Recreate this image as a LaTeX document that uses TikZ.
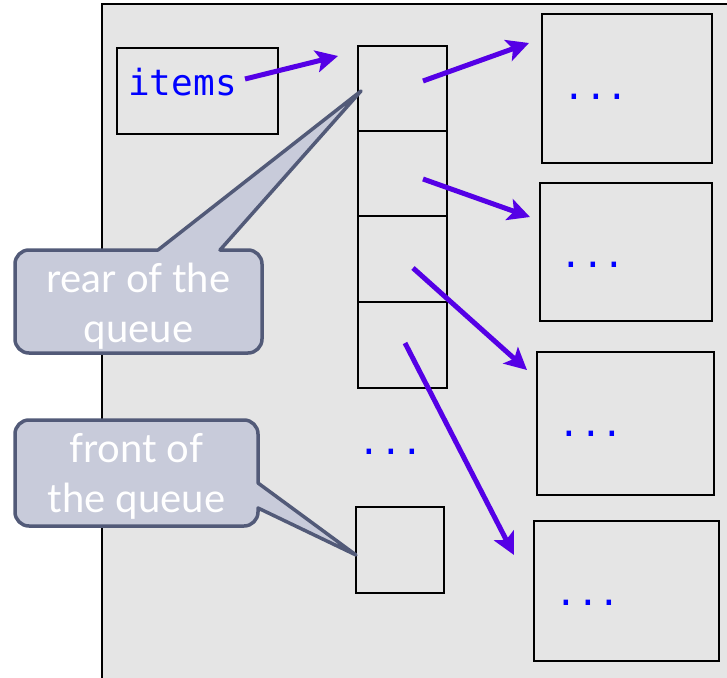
\documentclass[tikz,border=0pt]{standalone}
\usepackage{fontspec}
\setmainfont{Lato}
\newfontfamily\monof{DejaVu Sans Mono}
\usetikzlibrary{arrows.meta}
\definecolor{bggray}{HTML}{E5E5E5}
\definecolor{arrowcol}{HTML}{5500E6}
\definecolor{txtblue}{HTML}{0000FF}
\definecolor{calloutfill}{HTML}{C8CBDA}
\definecolor{calloutline}{HTML}{525A78}
\tikzset{
  boxnode/.style={draw=black, line width=2.6pt, fill=bggray, inner sep=0pt, rectangle},
  ptrarrow/.style={draw=arrowcol, line width=5pt, -{Stealth[length=22pt,width=22pt,inset=5pt]}},
  calloutshape/.style={draw=calloutline, fill=calloutfill, line width=3.5pt, line join=round},
  callouttext/.style={text=white, align=center, inner sep=0pt, font=\fontsize{40}{50}\selectfont},
  dotstext/.style={text=txtblue, inner sep=0pt, anchor=base, font=\monof\fontsize{36}{40}\selectfont},
}
\begin{document}
\begin{tikzpicture}[x=1pt, y=-1pt]
\useasboundingbox (0,0) rectangle (727,677);
\clip (0,0) rectangle (727,677);
% outer frame
\fill[bggray] (102,4) rectangle (740,690);
\draw[line width=2.6pt] (102,690) -- (102,4) -- (740,4);
% items box
\node[boxnode, minimum width=161pt, minimum height=86pt] (itemsbox) at (197.5,91) {};
\node[text=txtblue, inner sep=0pt, anchor=base, font=\monof\fontsize{36}{40}\selectfont] (itemstxt) at (182.5,95) {items};
% queue cells
\node[boxnode, minimum width=89pt, minimum height=85pt] (c1) at (402.5,88.5) {};
\node[boxnode, minimum width=89pt, minimum height=85pt] (c2) at (402.5,173.5) {};
\node[boxnode, minimum width=89pt, minimum height=86pt] (c3) at (402.5,259) {};
\node[boxnode, minimum width=89pt, minimum height=86pt] (c4) at (402.5,345) {};
\node[dotstext] (middots) at (391,454) {...};
\node[boxnode, minimum width=88pt, minimum height=86pt] (cf) at (400,550) {};
% item boxes
\node[boxnode, minimum width=170pt, minimum height=149pt] (b1) at (627,88.5) {};
\node[boxnode, minimum width=172pt, minimum height=138pt] (b2) at (626,252) {};
\node[boxnode, minimum width=177pt, minimum height=143pt] (b3) at (625.5,423.5) {};
\node[boxnode, minimum width=185pt, minimum height=140pt] (b4) at (626.5,591) {};
\node[dotstext] (d1) at (596,99) {...};
\node[dotstext] (d2) at (593,267) {...};
\node[dotstext] (d3) at (591,436) {...};
\node[dotstext] (d4) at (588,605) {...};
% arrow anchors
\coordinate (s0) at (245,79);
\coordinate (e0) at (338,56);
\coordinate (s1) at (423,81);
\coordinate (e1) at (529,43);
\coordinate (s2) at (423,179);
\coordinate (e2) at (530,217);
\coordinate (s3) at (413,268);
\coordinate (e3) at (527,370);
\coordinate (s4) at (405,343);
\coordinate (e4) at (514,555);
\draw[ptrarrow] (s0) -- (e0);
\draw[ptrarrow] (s1) -- (e1);
\draw[ptrarrow] (s2) -- (e2);
\draw[ptrarrow] (s3) -- (e3);
\draw[ptrarrow] (s4) -- (e4);
% callouts
\coordinate (reartip) at (361,91);
\coordinate (fronttip) at (356,555);
\draw[calloutshape] (reartip) -- (220,250) [rounded corners=14pt] -- (262,250) -- (262,353) -- (15,353) -- (15,250) [sharp corners] -- (158,250) -- cycle;
\node[callouttext] (reartxt) at (138.5,306) {rear of the\\queue};
\draw[calloutshape] (fronttip) -- (258,508) [rounded corners=14pt] -- (258,526) -- (15,526) -- (15,420) -- (258,420) [sharp corners] -- (258,483) -- cycle;
\node[callouttext] (fronttxt) at (136.5,476) {front of\\the queue};
\end{tikzpicture}
\end{document}
